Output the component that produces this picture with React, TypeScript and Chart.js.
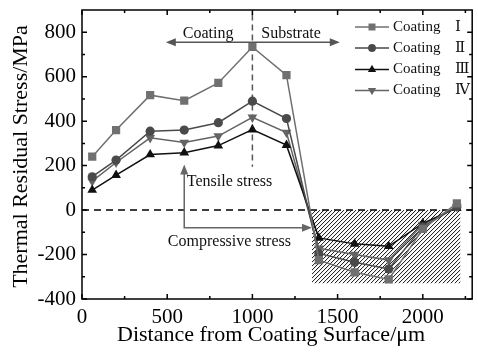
import React, { useEffect, useRef } from "react";
import { Chart, registerables } from "chart.js";
Chart.register(...registerables);

const distances = [60, 200, 400, 600, 800, 1000, 1200, 1390, 1600, 1800, 2000, 2200];
const coatingI = [240, 360, 517, 492, 572, 734, 607, -225, -280, -312, -85, 30];
const coatingII = [150, 225, 355, 360, 393, 490, 412, -195, -235, -265, -75, 15];
const coatingIII = [90, 157, 250, 258, 290, 362, 292, -125, -152, -163, -60, 10];
const coatingIV = [130, 214, 325, 304, 333, 417, 349, -172, -200, -225, -65, 15];
const seriesNames = ["Coating Ⅰ", "Coating Ⅱ", "Coating Ⅲ", "Coating Ⅳ"];
const xTicks = [0, 500, 1000, 1500, 2000];
const xMinor = [250, 750, 1250, 1750, 2250];
const yTicks = [-400, -200, 0, 200, 400, 600, 800];
const yMinor = [-300, -100, 100, 300, 500, 700];
const xTitle = "Distance from Coating Surface/μm";
const yTitle = "Thermal Residual Stress/MPa";
// annotation anchors (data units)
const hatchX = [1350, 2220];
const hatchY = [0, -330];
const interfaceX = 1000;
const interfaceY = [880, 195];
const regionArrowY = 755;
const regionArrowX = [492, 1513];
const bracketX = [600, 1350];
const bracketY = [205, -79];

const SERIF = '"Liberation Serif", "DejaVu Serif", serif';
Chart.defaults.font.family = SERIF;

const colors = ["#707070", "#4a4a4a", "#111111", "#646464"];
const styles = ["rect", "circle", "triangle", "triangle"];
const rotations = [0, 0, 0, 180];
const radii = [5.8, 4.6, 5.6, 5.6];

function drawMarker(ctx: CanvasRenderingContext2D, style: string, rot: number, x: number, y: number, r: number, color: string) {
  ctx.save();
  ctx.fillStyle = color;
  ctx.beginPath();
  if (style === "rect") {
    const s = Math.SQRT1_2 * r;
    ctx.rect(x - s, y - s, 2 * s, 2 * s);
  } else if (style === "circle") {
    ctx.arc(x, y, r, 0, Math.PI * 2);
  } else {
    const d = rot === 180 ? -1 : 1;
    ctx.moveTo(x, y - d * r);
    ctx.lineTo(x + r * 0.866, y + d * r * 0.5);
    ctx.lineTo(x - r * 0.866, y + d * r * 0.5);
    ctx.closePath();
  }
  ctx.fill();
  ctx.restore();
}

function arrowHead(ctx: CanvasRenderingContext2D, x: number, y: number, dx: number, dy: number, color: string) {
  const len = 10, half = 4;
  const px = -dy, py = dx;
  ctx.save();
  ctx.fillStyle = color;
  ctx.beginPath();
  ctx.moveTo(x, y);
  ctx.lineTo(x - dx * len + px * half, y - dy * len + py * half);
  ctx.lineTo(x - dx * len - px * half, y - dy * len - py * half);
  ctx.closePath();
  ctx.fill();
  ctx.restore();
}

const overlay = {
  id: "overlay",
  beforeDatasetsDraw(chart: any) {
    const { ctx, chartArea: a, scales } = chart;
    const x = scales.x, y = scales.y;
    const x0 = x.getPixelForValue(hatchX[0]), x1 = x.getPixelForValue(hatchX[1]);
    const y0 = y.getPixelForValue(hatchY[0]), y1 = y.getPixelForValue(hatchY[1]);
    ctx.save();
    ctx.beginPath();
    ctx.rect(x0, y0, x1 - x0, y1 - y0);
    ctx.clip();
    ctx.strokeStyle = "#111";
    ctx.lineWidth = 1;
    ctx.beginPath();
    const h = y1 - y0;
    for (let s = x0 - h; s < x1 + h; s += 4) {
      ctx.moveTo(s, y1);
      ctx.lineTo(s + h, y0);
    }
    ctx.stroke();
    ctx.restore();
    ctx.save();
    ctx.strokeStyle = "#000";
    ctx.lineWidth = 1.5;
    ctx.setLineDash([7, 5]);
    const zy = y.getPixelForValue(0);
    ctx.beginPath();
    ctx.moveTo(a.left, zy);
    ctx.lineTo(a.right, zy);
    ctx.stroke();
    ctx.strokeStyle = "#555";
    ctx.setLineDash([6, 4]);
    const ix = x.getPixelForValue(interfaceX);
    ctx.beginPath();
    ctx.moveTo(ix, y.getPixelForValue(interfaceY[0]));
    ctx.lineTo(ix, y.getPixelForValue(interfaceY[1]));
    ctx.stroke();
    ctx.restore();
  },
  afterDatasetsDraw(chart: any) {
    const { ctx, scales } = chart;
    const x = scales.x, y = scales.y;
    const ay = y.getPixelForValue(regionArrowY);
    const ax0 = x.getPixelForValue(regionArrowX[0]), ax1 = x.getPixelForValue(regionArrowX[1]);
    ctx.save();
    ctx.strokeStyle = "#555";
    ctx.lineWidth = 1.5;
    ctx.beginPath();
    ctx.moveTo(ax0 + 6, ay);
    ctx.lineTo(ax1 - 6, ay);
    ctx.stroke();
    arrowHead(ctx, ax0, ay, -1, 0, "#555");
    arrowHead(ctx, ax1, ay, 1, 0, "#555");
    const bx0 = x.getPixelForValue(bracketX[0]), bx1 = x.getPixelForValue(bracketX[1]);
    const by0 = y.getPixelForValue(bracketY[0]), by1 = y.getPixelForValue(bracketY[1]);
    ctx.strokeStyle = "#666";
    ctx.beginPath();
    ctx.moveTo(bx0, by0 + 6);
    ctx.lineTo(bx0, by1);
    ctx.lineTo(bx1 - 6, by1);
    ctx.stroke();
    arrowHead(ctx, bx0, by0, 0, -1, "#666");
    arrowHead(ctx, bx1, by1, 1, 0, "#666");
    ctx.fillStyle = "#111";
    ctx.font = `16px ${SERIF}`;
    ctx.textBaseline = "middle";
    ctx.textAlign = "center";
    ctx.fillText("Coating", x.getPixelForValue(740), y.getPixelForValue(794));
    ctx.fillText("Substrate", x.getPixelForValue(1227), y.getPixelForValue(794));
    ctx.textAlign = "left";
    ctx.fillText("Tensile stress", x.getPixelForValue(615), y.getPixelForValue(128));
    ctx.textAlign = "center";
    ctx.fillText("Compressive stress", x.getPixelForValue(865), y.getPixelForValue(-141));
    ctx.restore();
  },
  afterDraw(chart: any) {
    const { ctx, chartArea: a, scales } = chart;
    const x = scales.x, y = scales.y;
    ctx.save();
    ctx.strokeStyle = "#000";
    ctx.lineWidth = 1.5;
    ctx.strokeRect(a.left, a.top, a.right - a.left, a.bottom - a.top);
    ctx.beginPath();
    const tick = (vals: number[], len: number) => {
      for (const v of vals) {
        const px = x.getPixelForValue(v);
        if (px < a.left || px > a.right) continue;
        ctx.moveTo(px, a.bottom); ctx.lineTo(px, a.bottom - len);
        ctx.moveTo(px, a.top); ctx.lineTo(px, a.top + len);
      }
    };
    const ytick = (vals: number[], len: number) => {
      for (const v of vals) {
        const py = y.getPixelForValue(v);
        ctx.moveTo(a.left, py); ctx.lineTo(a.left + len, py);
        ctx.moveTo(a.right, py); ctx.lineTo(a.right - len, py);
      }
    };
    tick(xTicks, 5); tick(xMinor, 3);
    ytick(yTicks, 5); ytick(yMinor, 3);
    ctx.stroke();
    ctx.fillStyle = "#000";
    ctx.font = `22px ${SERIF}`;
    ctx.textAlign = "center";
    ctx.textBaseline = "alphabetic";
    ctx.fillText(xTitle, (a.left + a.right) / 2 - 6, 341);
    ctx.save();
    ctx.translate(27, (a.top + a.bottom) / 2 + 2);
    ctx.rotate(-Math.PI / 2);
    ctx.font = `22px ${SERIF}`;
    ctx.fillText(yTitle, 0, 0);
    ctx.restore();
    ctx.font = `15px ${SERIF}`;
    ctx.textAlign = "left";
    ctx.textBaseline = "middle";
    const rows = [27, 48, 69.5, 90.5];
    seriesNames.forEach((name, i) => {
      const ly = rows[i];
      ctx.strokeStyle = colors[i];
      ctx.lineWidth = 1.5;
      ctx.beginPath();
      ctx.moveTo(355, ly);
      ctx.lineTo(389, ly);
      ctx.stroke();
      drawMarker(ctx, styles[i], rotations[i], 372, ly, radii[i] * 0.85, colors[i]);
      const [word, num] = name.split(" ");
      ctx.fillStyle = "#111";
      ctx.fillText(word, 393, ly);
      ctx.fillText(num, 455, ly);
    });
    ctx.restore();
  },
};

function mk(label: string, vals: number[], i: number) {
  return {
    label,
    data: distances.map((d, k) => ({ x: d, y: vals[k] })),
    borderColor: colors[i],
    backgroundColor: colors[i],
    pointBackgroundColor: colors[i],
    pointBorderColor: colors[i],
    pointStyle: styles[i],
    pointRotation: rotations[i],
    pointRadius: radii[i],
    pointBorderWidth: 0,
    borderWidth: 1.5,
    tension: 0,
    fill: false,
  };
}

export default function App() {
  const ref = useRef<HTMLCanvasElement>(null);
  useEffect(() => {
    document.body.style.margin = "0";
    const font = { family: SERIF, size: 21 };
    const chart = new Chart(ref.current as HTMLCanvasElement, {
      type: "line",
      data: {
        datasets: [
          mk(seriesNames[0], coatingI, 0),
          mk(seriesNames[1], coatingII, 1),
          mk(seriesNames[2], coatingIII, 2),
          mk(seriesNames[3], coatingIV, 3),
        ] as any,
      },
      options: {
        animation: false,
        responsive: false,
        layout: { padding: { top: 10, right: 1, left: 0, bottom: 0 } },
        plugins: { legend: { display: false }, tooltip: { enabled: false } },
        scales: {
          x: {
            type: "linear",
            min: 0,
            max: 2290,
            afterFit: (s: any) => { s.height = 59; s.paddingLeft = 0; s.paddingRight = 0; },
            afterBuildTicks: (s: any) => { s.ticks = xTicks.map((v) => ({ value: v })); },
            grid: { display: false, drawTicks: false },
            border: { display: false },
            ticks: { font, color: "#000", padding: 6, maxRotation: 0, autoSkip: false, callback: (v: any) => String(v) },
          },
          y: {
            type: "linear",
            min: -400,
            max: 900,
            afterFit: (s: any) => { s.width = 82; s.paddingTop = 0; s.paddingBottom = 0; },
            afterBuildTicks: (s: any) => { s.ticks = yTicks.map((v) => ({ value: v })); },
            grid: { display: false, drawTicks: false },
            border: { display: false },
            ticks: { font, color: "#000", padding: 6, autoSkip: false, callback: (v: any) => String(v) },
          },
        },
      } as any,
      plugins: [overlay],
    });
    return () => chart.destroy();
  }, []);
  return <canvas ref={ref} width={478} height={358} style={{ display: "block" }} />;
}
